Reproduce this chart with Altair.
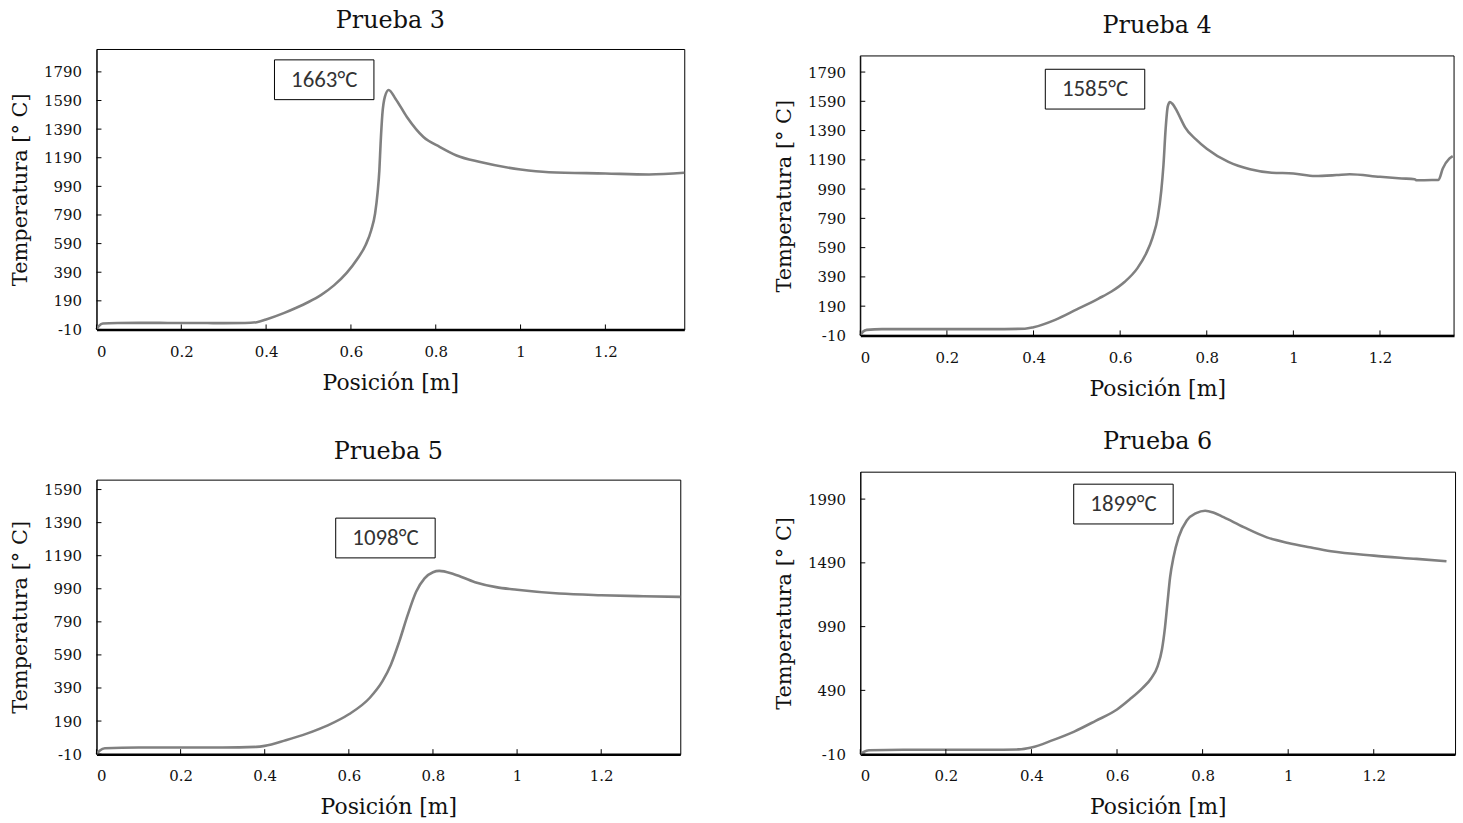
import altair as alt
import pandas as pd

# ---------------- data ----------------
p3_x = [0, 0.006, 0.015, 0.05, 0.1, 0.15, 0.2, 0.25, 0.3, 0.35, 0.378, 0.4, 0.443, 0.47, 0.5,
        0.53, 0.56, 0.59, 0.615, 0.635, 0.648, 0.657, 0.663, 0.667, 0.67, 0.674, 0.68, 0.689,
        0.705, 0.732, 0.771, 0.81, 0.849, 0.905, 1.0, 1.067, 1.2, 1.303, 1.386]
p3_t = [-10, 15, 32, 35, 36, 36, 35, 35, 34, 35, 41, 60, 106, 140, 182,
        232, 298, 385, 482, 582, 685, 800, 950, 1100, 1290, 1490, 1615, 1663,
        1603, 1475, 1335, 1265, 1206, 1160, 1108, 1089, 1080, 1073, 1085]

p4_x = [0, 0.006, 0.015, 0.05, 0.1, 0.2, 0.3, 0.38, 0.4, 0.45, 0.5, 0.55, 0.58, 0.61, 0.64,
        0.66, 0.675, 0.687, 0.695, 0.70, 0.705, 0.71, 0.715, 0.72, 0.73, 0.74, 0.75, 0.775, 0.8,
        0.85, 0.9, 0.95, 1.0, 1.05, 1.1, 1.13, 1.2, 1.25, 1.28, 1.285, 1.32, 1.335, 1.345, 1.36,
        1.368]
p4_t = [-10, 15, 28, 33, 33, 33, 33, 36, 46, 96, 168, 242, 290, 355, 450,
        550, 660, 800, 980, 1153, 1400, 1555, 1585, 1575, 1530, 1470, 1412, 1330, 1266,
        1176, 1126, 1102, 1097, 1079, 1086, 1092, 1074, 1063, 1057, 1050, 1052, 1052, 1131, 1198,
        1215]

p5_x = [0, 0.008, 0.02, 0.1, 0.2, 0.3, 0.38, 0.4, 0.45, 0.5, 0.55, 0.6, 0.65, 0.68, 0.7, 0.72,
        0.74, 0.76, 0.78, 0.8, 0.815, 0.85, 0.9, 0.95, 1.0, 1.1, 1.2, 1.3, 1.388]
p5_t = [-10, 12, 26, 30, 30, 30, 34, 40, 74, 114, 164, 231, 331, 431, 531, 672,
        832, 972, 1053, 1090, 1098, 1078, 1030, 1000, 984, 961, 951, 945, 941]

p6_x = [0, 0.008, 0.02, 0.1, 0.2, 0.3, 0.37, 0.4, 0.45, 0.5, 0.55, 0.6, 0.63, 0.66, 0.68,
        0.695, 0.705, 0.712, 0.718, 0.724, 0.732, 0.744, 0.763, 0.785, 0.806, 0.825, 0.849, 0.896,
        0.95, 1.0, 1.05, 1.1, 1.2, 1.3, 1.37]
p6_t = [-10, 8, 21, 24, 24, 24, 27, 42, 100, 167, 251, 340, 420, 510, 585,
        680, 810, 980, 1180, 1376, 1533, 1691, 1822, 1880, 1899, 1885, 1848, 1770,
        1690, 1646, 1612, 1581, 1547, 1521, 1502]

titles = ["Prueba 3", "Prueba 4", "Prueba 5", "Prueba 6"]
peak_labels = ["1663°C", "1585°C", "1098°C", "1899°C"]
label_x = [0.537, 0.542, 0.687, 0.615]
label_t = [1735, 1673, 1297, 1951]

x_ticks = [0, 0.2, 0.4, 0.6, 0.8, 1, 1.2]
y_ticks_a = [-10, 190, 390, 590, 790, 990, 1190, 1390, 1590, 1790]
y_ticks_b = [-10, 190, 390, 590, 790, 990, 1190, 1390, 1590]
y_ticks_c = [-10, 490, 990, 1490, 1990]

x_domains = [[0, 1.386], [0, 1.371], [0, 1.388], [0, 1.39]]
y_domains = [[-10, 1950], [-10, 1900], [-10, 1650], [-10, 2205]]
y_ticks = [y_ticks_a, y_ticks_a, y_ticks_b, y_ticks_c]
series = [(p3_x, p3_t), (p4_x, p4_t), (p5_x, p5_t), (p6_x, p6_t)]
sizes = [(591, 282), (597, 281), (587, 276), (598, 284)]
top_shift = [0, 7, 0, 0]          # panel frame starts this far below the row top
title_offsets = [16, 11, 16, 18]

SERIF = "DejaVu Serif"
SANS = "Carlito, Liberation Sans"
BOX = "M-1,-0.4L1,-0.4L1,0.4L-1,0.4Z"


def panel(i):
    xs, ts = series[i]
    w, h = sizes[i]
    s = top_shift[i]
    df = pd.DataFrame({"x": xs, "t": ts})
    xsc = alt.Scale(domain=x_domains[i], nice=False, zero=False)
    ysc = alt.Scale(domain=y_domains[i], nice=False, zero=False, range=[h + s, s])
    xax = alt.Axis(values=x_ticks, format=".1~f", title="Posición [m]", grid=False,
                   ticks=False, domainColor="black", domainWidth=2.5,
                   labelFont=SERIF, labelFontSize=15, labelColor="#111111", labelPadding=15,
                   titleFont=SERIF, titleFontSize=22, titleFontWeight="normal",
                   titleColor="#111111", titlePadding=13)
    yax = alt.Axis(values=y_ticks[i], labelExpr="'' + datum.value", title="Temperatura [° C]",
                   grid=False, ticks=False, domainColor="black", domainWidth=1,
                   labelFont=SERIF, labelFontSize=15, labelColor="#111111", labelPadding=15,
                   titleFont=SERIF, titleFontSize=21, titleFontWeight="normal",
                   titleColor="#111111", titlePadding=13)
    X = alt.X("x:Q", scale=xsc, axis=xax)
    Y = alt.Y("t:Q", scale=ysc, axis=yax)
    line = alt.Chart(df).mark_line(color="#808080", strokeWidth=2.6, interpolate="monotone").encode(
        x=X, y=Y)
    xtdf = pd.DataFrame({"x": x_ticks})
    xticks = alt.Chart(xtdf).mark_rule(color="black", strokeWidth=1).encode(
        x=X, y=alt.value(h + s), y2=alt.value(h + s - 5))
    ytdf = pd.DataFrame({"t": y_ticks[i]})
    yticks = alt.Chart(ytdf).mark_rule(color="black", strokeWidth=1).encode(
        y=Y, x=alt.value(0), x2=alt.value(5))
    ldf = pd.DataFrame({"x": [label_x[i]], "t": [label_t[i]], "lab": [peak_labels[i]]})
    box = alt.Chart(ldf).mark_point(shape=BOX, size=10000, fill="white", stroke="black",
                                    strokeWidth=1, opacity=1, fillOpacity=1).encode(x=X, y=Y)
    txt = alt.Chart(ldf).mark_text(font=SANS, fontSize=23, color="#333333",
                                   align="center", baseline="middle").encode(
        x=X, y=Y, text="lab:N")
    layers = [line, xticks, yticks, box, txt]
    view = alt.ViewBackground(stroke="black", strokeWidth=1)
    if s > 0:
        frame = alt.Chart(pd.DataFrame({"k": [0]})).mark_rect(
            fill="white", fillOpacity=0, stroke="black", strokeWidth=1).encode(
            x=alt.value(0), x2=alt.value(w), y=alt.value(s), y2=alt.value(h + s))
        layers = [frame] + layers
        view = alt.ViewBackground(stroke="transparent", strokeWidth=0)
    return alt.layer(*layers).properties(
        width=w, height=h + s,
        view=view,
        title=alt.TitleParams(titles[i], font=SERIF, fontSize=24, fontWeight="normal",
                              color="#111111", anchor="middle", offset=title_offsets[i]),
    )


col1 = alt.vconcat(panel(0), panel(2), spacing=45)
col2 = alt.vconcat(panel(1), panel(3), spacing=30)
chart = alt.hconcat(col1, col2, spacing=83).properties(
    padding={"left": 9, "top": 6, "right": 5, "bottom": 5}, background="white"
)

chart.save("out.html", embed_options={"renderer": "svg", "actions": False})
